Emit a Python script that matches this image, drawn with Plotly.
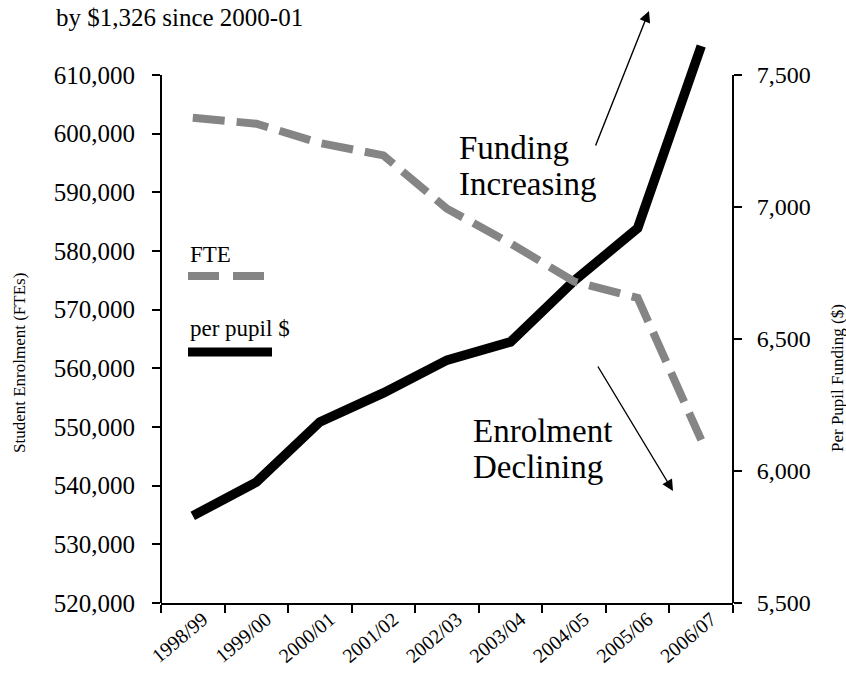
import plotly.graph_objects as go

years = ["1998/99", "1999/00", "2000/01", "2001/02", "2002/03",
         "2003/04", "2004/05", "2005/06", "2006/07"]
fte = [602700, 601700, 598400, 596300, 587200, 581300, 574800, 572000, 547800]
per_pupil = [5830, 5958, 6186, 6296, 6420, 6489, 6720, 6920, 7610]

fte_ticks = list(range(520000, 610001, 10000))
fte_ticktext = [f"{v:,}" for v in fte_ticks]
pp_ticks = [5500, 6000, 6500, 7000, 7500]
pp_ticktext = [f"{v:,}" for v in pp_ticks]

FONT = "Liberation Serif, Times New Roman, serif"
GRAY = "#858585"

# plot area geometry (pixels) used to place axes ranges
TOP, BOTTOM, LEFT, RIGHT = 38, 603, 161, 733
H = BOTTOM - TOP
FTE_TOP_PX = 75
scale = H / (BOTTOM - FTE_TOP_PX)
fte_range = [520000, 520000 + (610000 - 520000) * scale]
pp_range = [5500, 5500 + (7500 - 5500) * scale]

fig = go.Figure()
fig.add_trace(go.Scatter(
    x=years, y=per_pupil, mode="lines", name="per pupil $",
    line=dict(color="black", width=9.5), yaxis="y"))
fig.add_trace(go.Scatter(
    x=years, y=fte, mode="lines", name="FTE",
    line=dict(color=GRAY, width=8, dash="32px,12px"), yaxis="y2"))


def px_x(p):
    return (p - LEFT) / (RIGHT - LEFT)


def px_y(p):
    return (BOTTOM - p) / H


def label(text, x, y, size, **kw):
    d = dict(text=text, x=px_x(x), y=px_y(y), xref="paper", yref="paper",
             xanchor="left", yanchor="middle", showarrow=False, font=dict(size=size))
    d.update(kw)
    return d


annotations = [
    label("by $1,326 since 2000-01", 54, 18, 25),
    dict(text="Student Enrolment (FTEs)", x=px_x(19), y=px_y(363), xref="paper", yref="paper",
         xanchor="center", yanchor="middle", textangle=-90, showarrow=False,
         font=dict(size=17)),
    dict(text="Per Pupil Funding ($)", x=px_x(837), y=px_y(378), xref="paper", yref="paper",
         xanchor="center", yanchor="middle", textangle=-90, showarrow=False,
         font=dict(size=17)),
    label("Funding", 457, 148, 33),
    label("Increasing", 457, 184, 33),
    label("Enrolment", 471, 431, 33),
    label("Declining", 471, 467, 33),
    label("FTE", 188, 255, 23),
    label("per pupil $", 188, 328, 23),
    # arrows
    dict(text="", x=px_x(649), y=px_y(11), xref="paper", yref="paper",
         ax=595 - 649, ay=147 - 11, showarrow=True, arrowhead=2, arrowsize=1.6,
         arrowwidth=1.4, arrowcolor="black"),
    dict(text="", x=px_x(673), y=px_y(491), xref="paper", yref="paper",
         ax=597 - 673, ay=365 - 491, showarrow=True, arrowhead=2, arrowsize=1.6,
         arrowwidth=1.4, arrowcolor="black"),
]

shapes = [
    # axis lines limited to tick range
    dict(type="line", xref="paper", yref="y2", x0=0, x1=0, y0=520000, y1=610000,
         line=dict(color="black", width=2)),
    dict(type="line", xref="paper", yref="y", x0=1, x1=1, y0=5500, y1=7500,
         line=dict(color="black", width=2)),
    # legend samples
    dict(type="line", xref="paper", yref="paper", x0=px_x(188), x1=px_x(266),
         y0=px_y(276), y1=px_y(276), line=dict(color=GRAY, width=8, dash="31px,14px")),
    dict(type="line", xref="paper", yref="paper", x0=px_x(188), x1=px_x(272),
         y0=px_y(352), y1=px_y(352), line=dict(color="black", width=9)),
]

fig.update_layout(
    width=846, height=676,
    margin=dict(l=LEFT, r=846 - RIGHT, t=TOP, b=676 - BOTTOM, pad=0, autoexpand=False),
    paper_bgcolor="white", plot_bgcolor="white",
    font=dict(family=FONT, color="black"),
    showlegend=False,
    xaxis=dict(type="category", tickson="boundaries", ticks="outside", ticklen=8,
               tickwidth=2, tickcolor="black", showline=True, linecolor="black",
               linewidth=2, showgrid=False, zeroline=False, tickangle=-40,
               tickfont=dict(size=20), range=[-0.5, 8.5], automargin=False,
               ticklabelstandoff=-5, ticklabelshift=10),
    yaxis=dict(side="right", range=pp_range, tickvals=pp_ticks, ticktext=pp_ticktext,
               ticks="outside", ticklen=8, tickwidth=2, tickcolor="black",
               showline=False, showgrid=False, zeroline=False, automargin=False,
               tickfont=dict(size=24), ticklabelstandoff=10),
    yaxis2=dict(side="left", overlaying="y", range=fte_range, tickvals=fte_ticks,
                ticktext=fte_ticktext, ticks="outside", ticklen=8, tickwidth=2,
                tickcolor="black", showline=False, showgrid=False, zeroline=False,
                automargin=False, tickfont=dict(size=25), ticklabelstandoff=12),
    annotations=annotations,
    shapes=shapes,
)

fig.write_html(
    "out.html",
    config={"displayModeBar": False},
    post_script="document.body.style.margin='0';document.body.style.padding='0';"
                "document.body.style.overflow='hidden';",
)
